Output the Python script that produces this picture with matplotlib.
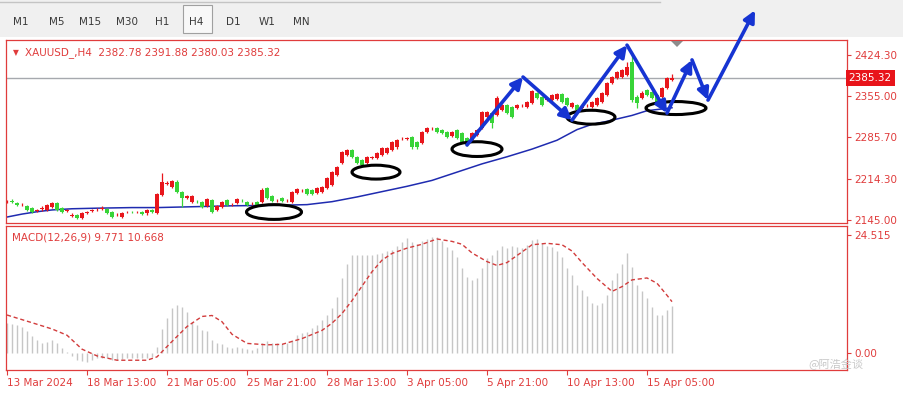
import numpy as np
import matplotlib
matplotlib.use('Agg')
import matplotlib.pyplot as plt
import matplotlib.patches as patches
from matplotlib.lines import Line2D
from matplotlib.transforms import blended_transform_factory

plt.rcParams['font.family'] = ['DejaVu Sans', 'Noto Sans CJK SC']

AXRED = '#e03c3c'
BULL = '#e8161c'
BEAR = '#38d438'
MA_BLUE = '#1f2bb0'
ARROW_BLUE = '#1634d2'
HIST = '#c6c6c6'
SIG = '#d23c3c'
FS = 7.5

# ---- data (H4 bars, 13 Mar 2024 .. 16 Apr 2024) ----
opens = [2175, 2177, 2174, 2170, 2169, 2165, 2161, 2163, 2162, 2167,
         2174, 2165, 2161, 2152, 2153, 2148, 2157, 2160, 2163, 2164,
         2164, 2158, 2153, 2150, 2158, 2159, 2158, 2158, 2156, 2162,
         2157, 2188, 2206, 2201, 2209, 2192, 2183, 2175, 2176, 2175,
         2169, 2179, 2162, 2167, 2178, 2170, 2174, 2179, 2175, 2173,
         2175, 2175, 2199, 2185, 2178, 2182, 2178, 2175, 2191, 2195,
         2197, 2196, 2191, 2192, 2199, 2204, 2221, 2241, 2255, 2263,
         2252, 2246, 2241, 2250, 2250, 2255, 2258, 2263, 2268, 2283,
         2282, 2285, 2277, 2275, 2294, 2300, 2301, 2297, 2294, 2287,
         2297, 2292, 2284, 2280, 2289, 2301, 2319, 2326, 2323, 2331,
         2340, 2336, 2335, 2339, 2336, 2343, 2360, 2353, 2348, 2348,
         2350, 2358, 2352, 2336, 2340, 2335, 2339, 2336, 2340, 2345,
         2357, 2377, 2385, 2387, 2390, 2412, 2353, 2351, 2365, 2362,
         2357, 2353, 2368, 2382.78]
highs = [2179, 2180, 2176, 2173, 2171, 2167, 2164, 2168, 2172, 2176,
         2176, 2167, 2164, 2157, 2155, 2159, 2161, 2164, 2166, 2168,
         2166, 2160, 2156, 2159, 2161, 2161, 2161, 2160, 2164, 2163,
         2191, 2224, 2211, 2213, 2212, 2194, 2187, 2188, 2178, 2177,
         2182, 2181, 2171, 2177, 2180, 2173, 2182, 2181, 2177, 2176,
         2177, 2199, 2201, 2187, 2181, 2184, 2181, 2194, 2199, 2198,
         2199, 2198, 2201, 2203, 2218, 2228, 2237, 2262, 2266, 2265,
         2254, 2248, 2254, 2253, 2260, 2269, 2269, 2279, 2282, 2286,
         2285, 2287, 2279, 2296, 2303, 2303, 2303, 2299, 2296, 2296,
         2299, 2294, 2286, 2294, 2299, 2330, 2330, 2328, 2355, 2342,
         2342, 2338, 2342, 2342, 2347, 2365, 2362, 2355, 2351, 2359,
         2360, 2360, 2354, 2345, 2342, 2338, 2342, 2347, 2354, 2362,
         2379, 2389, 2397, 2401, 2412, 2428, 2357, 2363, 2367, 2364,
         2359, 2370, 2387, 2391.88]
lows = [2173, 2174, 2168, 2168, 2160, 2156, 2159, 2161, 2160, 2165,
        2160, 2157, 2159, 2150, 2146, 2147, 2155, 2158, 2161, 2162,
        2155, 2148, 2151, 2149, 2156, 2156, 2156, 2153, 2154, 2157,
        2155, 2186, 2204, 2199, 2191, 2167, 2181, 2173, 2173, 2165,
        2167, 2157, 2160, 2165, 2168, 2168, 2172, 2176, 2168, 2171,
        2168, 2173, 2180, 2175, 2176, 2175, 2176, 2173, 2189, 2193,
        2187, 2187, 2189, 2190, 2197, 2202, 2219, 2239, 2253, 2250,
        2239, 2236, 2239, 2248, 2248, 2253, 2256, 2261, 2266, 2281,
        2280, 2266, 2266, 2273, 2292, 2298, 2292, 2290, 2283, 2285,
        2282, 2275, 2270, 2278, 2287, 2299, 2317, 2301, 2321, 2329,
        2324, 2317, 2333, 2337, 2334, 2341, 2350, 2338, 2346, 2346,
        2348, 2343, 2338, 2334, 2329, 2333, 2337, 2334, 2338, 2343,
        2355, 2375, 2383, 2385, 2388, 2344, 2334, 2349, 2355, 2349,
        2343, 2351, 2366, 2380.03]
closes = [2176, 2176, 2170, 2171, 2162, 2158, 2162, 2166, 2170, 2174,
          2162, 2158, 2162, 2154, 2148, 2157, 2159, 2162, 2164, 2166,
          2157, 2150, 2154, 2157, 2159, 2158, 2159, 2155, 2162, 2158,
          2189, 2209, 2208, 2211, 2193, 2182, 2185, 2186, 2175, 2167,
          2180, 2159, 2169, 2175, 2170, 2171, 2180, 2178, 2170, 2174,
          2170, 2196, 2182, 2177, 2179, 2177, 2179, 2192, 2197, 2196,
          2189, 2189, 2199, 2201, 2216, 2226, 2235, 2260, 2264, 2252,
          2241, 2238, 2252, 2251, 2258, 2267, 2267, 2277, 2280, 2284,
          2283, 2268, 2268, 2294, 2301, 2301, 2294, 2292, 2285, 2294,
          2284, 2277, 2272, 2292, 2297, 2328, 2328, 2309, 2352, 2340,
          2326, 2319, 2340, 2340, 2345, 2363, 2352, 2340, 2349, 2357,
          2358, 2345, 2340, 2343, 2331, 2336, 2340, 2345, 2352, 2360,
          2377, 2387, 2395, 2399, 2404, 2348, 2343, 2360, 2357, 2351,
          2345, 2368, 2385, 2385.32]

# moving average, read at selected bars
ma_idx = [0, 3, 6, 9, 13, 18, 25, 30, 35, 45, 55, 60, 65, 70, 75, 80,
          85, 90, 95, 100, 105, 110, 114, 117, 120, 125, 128, 133]
ma_val = [2150, 2155, 2159, 2162, 2164, 2165, 2166, 2166, 2167, 2169, 2170,
          2171, 2176, 2184, 2193, 2202, 2212, 2226, 2240, 2252, 2265, 2280,
          2298, 2307, 2312, 2322, 2330, 2335]

macd = [6.2, 5.96, 5.8, 5.5, 4.6, 3.6, 2.7, 2.0, 2.2, 2.7,
        2.0, 1.1, 0.3, -0.6, -1.5, -1.7, -1.8, -1.5, -1.1, -1.0,
        -1.1, -1.5, -1.5, -1.3, -1.1, -1.1, -1.0, -1.1, -1.0, -0.8,
        1.3, 5.0, 7.3, 9.4, 10.0, 9.6, 8.5, 6.5, 5.8, 4.8,
        4.6, 2.7, 2.0, 1.8, 1.3, 1.1, 1.3, 1.0, 0.8, 0.6,
        1.1, 2.0, 2.4, 2.0, 2.0, 1.8, 2.0, 2.7, 3.7, 4.1,
        4.4, 5.1, 5.8, 6.9, 7.9, 9.3, 11.7, 15.5, 18.5, 20.3,
        20.3, 20.3, 20.3, 20.4, 20.6, 20.8, 21.1, 21.4, 22.3, 23.0,
        24.0, 23.0, 22.6, 23.2, 23.8, 24.1, 24.1, 23.2, 22.0, 21.4,
        20.0, 17.6, 15.7, 15.2, 15.5, 17.7, 19.7, 20.4, 21.4, 22.3,
        21.8, 22.3, 22.1, 21.9, 22.5, 23.5, 23.7, 22.8, 22.3, 22.1,
        21.2, 20.0, 17.7, 16.2, 14.1, 13.1, 11.9, 10.3, 10.0, 10.3,
        12.1, 15.2, 16.6, 18.4, 20.7, 17.9, 14.1, 12.8, 11.5, 9.6,
        7.9, 7.9, 8.9, 9.771]

sig_idx = [0, 5, 9, 12, 15, 18, 22, 28, 30, 33, 36, 39, 41, 43, 45, 48, 52,
           55, 59, 63, 65, 67, 69, 71, 73, 75, 77, 80, 83, 86, 89, 91, 93,
           96, 98, 100, 103, 105, 108, 111, 113, 115, 118, 121, 123, 125,
           128, 130, 132, 133]
sig_val = [7.9, 6.3, 5.0, 3.7, 0.8, -0.6, -1.5, -1.5, -0.8, 2.4, 5.5, 7.6,
           7.8, 6.5, 3.9, 2.0, 1.7, 1.8, 3.0, 4.7, 6.2, 8.2, 10.9, 13.9,
           16.9, 19.3, 20.7, 21.8, 22.6, 23.7, 23.2, 22.6, 20.8, 19.0, 18.2,
           18.8, 21.0, 22.5, 22.8, 22.5, 21.2, 18.8, 15.5, 12.8, 13.8, 15.2,
           15.6, 14.5, 12.0, 10.668]

time_idx = [0, 16, 32, 48, 64, 80, 96, 112, 128]
time_labels = ['13 Mar 2024', '18 Mar 13:00', '21 Mar 05:00', '25 Mar 21:00',
               '28 Mar 13:00', '3 Apr 05:00', '5 Apr 21:00', '10 Apr 13:00',
               '15 Apr 05:00']
price_ticks = [2145.00, 2214.30, 2285.70, 2355.00, 2424.30]
macd_ticks = [0.0, 24.515]
timeframes = ['M1', 'M5', 'M15', 'M30', 'H1', 'H4', 'D1', 'W1', 'MN']

# drawn objects (bar index, price)
waves = [(92, 2272), (103.2, 2387), (113, 2314), (124, 2441),
         (132, 2326), (137, 2416), (140.2, 2348), (149.6, 2500)]
rings = [(53.4, 2158.5, 11, 25), (73.8, 2226, 9.6, 23.5), (94, 2265, 10, 25),
         (116.8, 2319, 9.6, 23.5), (133.8, 2334.5, 12, 22)]

W, H = 904, 394
fig = plt.figure(figsize=(W / 100, H / 100), dpi=100)
fig.patch.set_facecolor('white')


def fx(px):
    return px / W


def fy(py):
    return 1 - py / H


# toolbar
fig.patches.append(patches.Rectangle((0, fy(37)), 1, fy(0) - fy(37), transform=fig.transFigure,
                                     fc='#f0f0f0', ec='none', zorder=-2))
fig.lines.append(Line2D([0, fx(660)], [fy(2), fy(2)], transform=fig.transFigure,
                        color='#c4c4c4', lw=1, zorder=-1))
fig.patches.append(patches.Rectangle((fx(183), fy(33)), fx(212) - fx(183), fy(5) - fy(33),
                                     transform=fig.transFigure, fc='#f8f8f8', ec='#a0a0a0',
                                     lw=0.8, zorder=-1))
tf_x = [21, 57, 90, 127, 162, 196, 233, 267, 301]
for name, xx in zip(timeframes, tf_x):
    fig.text(fx(xx), fy(22), name, ha='center', va='center', fontsize=FS, color='#3a3a3a')

# ---- price panel ----
ax = fig.add_axes([fx(6), fy(223), fx(847) - fx(6), fy(40) - fy(223)])
am = fig.add_axes([fx(6), fy(370), fx(847) - fx(6), fy(226) - fy(370)])

idx = np.arange(len(closes))
o = np.array(opens, dtype=float)
c = np.array(closes, dtype=float)
colors = np.where(c >= o, BULL, BEAR)
ax.vlines(idx, lows, highs, colors=colors, lw=0.9, zorder=3)
ax.bar(idx, np.maximum(np.abs(c - o), 0.9), bottom=np.minimum(o, c), width=0.62,
       color=colors, linewidth=0, zorder=4)
ax.plot(ma_idx, ma_val, color=MA_BLUE, lw=1.1, zorder=2)
ax.axhline(closes[-1], color='#a6a9ae', lw=1, zorder=1)

for cx, cy, w, h in rings:
    ax.add_patch(patches.Ellipse((cx, cy), w, h, fill=False, ec='black', lw=2.2, zorder=6))
for a, b in zip(waves[:-1], waves[1:]):
    ax.add_patch(patches.FancyArrowPatch(a, b, arrowstyle='-|>', mutation_scale=17, lw=2.6,
                                         color=ARROW_BLUE, shrinkA=0, shrinkB=0,
                                         clip_on=False, zorder=7))

ax.set_xlim(-0.2, 168)
ax.set_ylim(2139.9, 2449.7)
ax.set_xticks([])
ax.yaxis.tick_right()
ax.set_yticks(price_ticks)
ax.set_yticklabels(['%.2f' % v for v in price_ticks])
ax.tick_params(axis='y', colors=AXRED, labelsize=FS, length=3, width=0.8, pad=2)
for s in ax.spines.values():
    s.set_color(AXRED)
    s.set_linewidth(0.9)

ax.text(0.008, 0.93, '\u25bc', transform=ax.transAxes, color=AXRED, fontsize=5.5, va='center')
ax.text(0.023, 0.93, 'XAUUSD_,H4  2382.78 2391.88 2380.03 2385.32', transform=ax.transAxes,
        color=AXRED, fontsize=FS, va='center')
bt = blended_transform_factory(ax.transAxes, ax.transData)
ax.text(1.002, closes[-1], '%.2f' % closes[-1], transform=bt, color='white', fontsize=FS,
        va='center', ha='left', zorder=8,
        bbox=dict(boxstyle='square,pad=0.28', fc='#e8141a', ec='none'))

fig.patches.append(patches.Polygon([(fx(671), fy(41)), (fx(683), fy(41)), (fx(677), fy(47))],
                                   closed=True, transform=fig.transFigure, fc='#8c8c8c',
                                   ec='none', zorder=5))

# ---- MACD panel ----
am.vlines(idx, 0, macd, color=HIST, lw=1.0, zorder=2)
am.plot(sig_idx, sig_val, color=SIG, lw=1.0, ls=(0, (3, 2)), zorder=3)
am.set_xlim(-0.2, 168)
am.set_ylim(-3.53, 26.4)
am.yaxis.tick_right()
am.set_yticks(macd_ticks)
am.set_yticklabels(['0.00', '24.515'])
am.tick_params(axis='y', colors=AXRED, labelsize=FS, length=3, width=0.8, pad=2)
am.set_xticks(time_idx)
am.set_xticklabels(time_labels)
for lbl in am.get_xticklabels():
    lbl.set_ha('left')
am.tick_params(axis='x', colors=AXRED, labelsize=FS, length=3.5, width=0.8, pad=2)
for s in am.spines.values():
    s.set_color(AXRED)
    s.set_linewidth(0.9)
am.text(0.007, 0.92, 'MACD(12,26,9) 9.771 10.668', transform=am.transAxes, color=AXRED,
        fontsize=FS, va='center')

fig.text(fx(808), fy(364), '@阿浩金谈', fontsize=8, color='#c8c8c8',
         family=['Noto Sans CJK SC', 'DejaVu Sans'], va='center', zorder=9)

fig.savefig('out.png', dpi=100, facecolor='white')
